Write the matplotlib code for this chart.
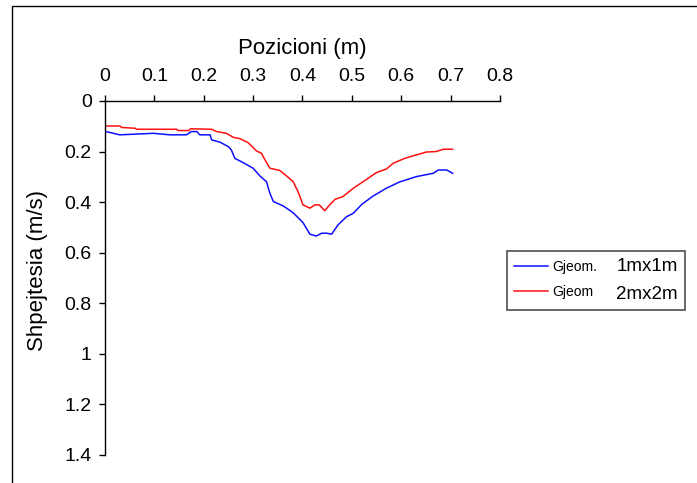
import matplotlib.pyplot as plt
from matplotlib.lines import Line2D
from matplotlib.patches import Rectangle
from matplotlib.ticker import FuncFormatter

plt.rcParams['font.family'] = ['Liberation Sans', 'DejaVu Sans']

# Velocity profiles along the section, 1mx1m geometry
x_1m = [0.002, 0.030, 0.098, 0.132, 0.165, 0.175, 0.186, 0.192, 0.213, 0.216,
        0.233, 0.250, 0.256, 0.263, 0.280, 0.300, 0.314, 0.327, 0.334, 0.341,
        0.361, 0.381, 0.401, 0.415, 0.428, 0.439, 0.449, 0.459, 0.472, 0.489,
        0.503, 0.520, 0.543, 0.570, 0.597, 0.631, 0.665, 0.675, 0.692, 0.704]
v_1m = [0.121, 0.134, 0.128, 0.134, 0.134, 0.121, 0.121, 0.134, 0.134, 0.154,
        0.163, 0.181, 0.194, 0.227, 0.244, 0.266, 0.297, 0.319, 0.365, 0.398,
        0.415, 0.442, 0.481, 0.527, 0.534, 0.523, 0.523, 0.527, 0.490, 0.458,
        0.444, 0.409, 0.376, 0.345, 0.320, 0.299, 0.286, 0.273, 0.273, 0.286]

# 2mx2m geometry
x_2m = [0.002, 0.030, 0.034, 0.061, 0.064, 0.145, 0.148, 0.170, 0.173, 0.216,
        0.226, 0.246, 0.260, 0.273, 0.290, 0.307, 0.317, 0.324, 0.334, 0.354,
        0.368, 0.381, 0.391, 0.401, 0.415, 0.425, 0.434, 0.445, 0.455, 0.466,
        0.482, 0.503, 0.526, 0.550, 0.570, 0.584, 0.607, 0.631, 0.651, 0.671,
        0.685, 0.704]
v_2m = [0.099, 0.099, 0.105, 0.108, 0.112, 0.112, 0.117, 0.117, 0.110, 0.112,
        0.121, 0.128, 0.144, 0.149, 0.165, 0.198, 0.207, 0.233, 0.266, 0.275,
        0.297, 0.319, 0.359, 0.411, 0.424, 0.411, 0.411, 0.434, 0.411, 0.389,
        0.378, 0.345, 0.315, 0.283, 0.269, 0.246, 0.227, 0.213, 0.202, 0.200,
        0.191, 0.191]

x_ticks = [0, 0.1, 0.2, 0.3, 0.4, 0.5, 0.6, 0.7, 0.8]
y_ticks = [0, 0.2, 0.4, 0.6, 0.8, 1.0, 1.2, 1.4]


def main():
    fig = plt.figure(figsize=(6.97, 4.83), dpi=100)
    ax = fig.add_axes([0.1506, 0.058, 0.5668, 0.733])

    # outer chart frame
    fig.patches.append(Rectangle((0.0172, -0.02), 1.1, 1.0076, transform=fig.transFigure,
                                 fill=False, edgecolor='black', linewidth=1.0))

    l1, = ax.plot(x_1m, v_1m, color='#1010ff', linewidth=1.1)
    l2, = ax.plot(x_2m, v_2m, color='#ff1010', linewidth=1.1)

    ax.set_xlim(0, 0.8)
    ax.set_ylim(1.4, 0)
    ax.set_xticks(x_ticks)
    ax.set_yticks(y_ticks)
    fmt = FuncFormatter(lambda v, p: f'{v:g}')
    ax.xaxis.set_major_formatter(fmt)
    ax.yaxis.set_major_formatter(fmt)

    ax.xaxis.tick_top()
    ax.xaxis.set_label_position('top')
    ax.spines['bottom'].set_visible(False)
    ax.spines['right'].set_visible(False)
    for s in ('top', 'left'):
        ax.spines[s].set_linewidth(1.0)
    ax.tick_params(axis='both', direction='out', length=4.5, width=1.0,
                   labelsize=14, color='black')
    ax.tick_params(axis='x', pad=7)
    ax.tick_params(axis='y', pad=5)

    ax.set_xlabel('Pozicioni (m)', fontsize=16, labelpad=10)
    ax.set_ylabel('Shpejtesia (m/s)', fontsize=16)
    ax.yaxis.set_label_coords(-0.144, 0.52)

    blank = Line2D([], [], linestyle='none')
    leg = fig.legend([l1, l2, blank, blank],
                     ['Gjeom.', 'Gjeom', '1mx1m', '2mx2m'],
                     ncol=2, loc='center left', bbox_to_anchor=(0.717, 0.419),
                     fontsize=10, handlelength=2.45, handletextpad=0.36,
                     columnspacing=-1.45, labelspacing=0.8, borderpad=0.5,
                     fancybox=False, frameon=True, edgecolor='#222222')
    leg.get_frame().set_linewidth(1.2)
    for t in leg.get_texts()[2:]:
        t.set_fontsize(13.5)

    fig.savefig('out.png', dpi=100)


if __name__ == "__main__":
    main()
